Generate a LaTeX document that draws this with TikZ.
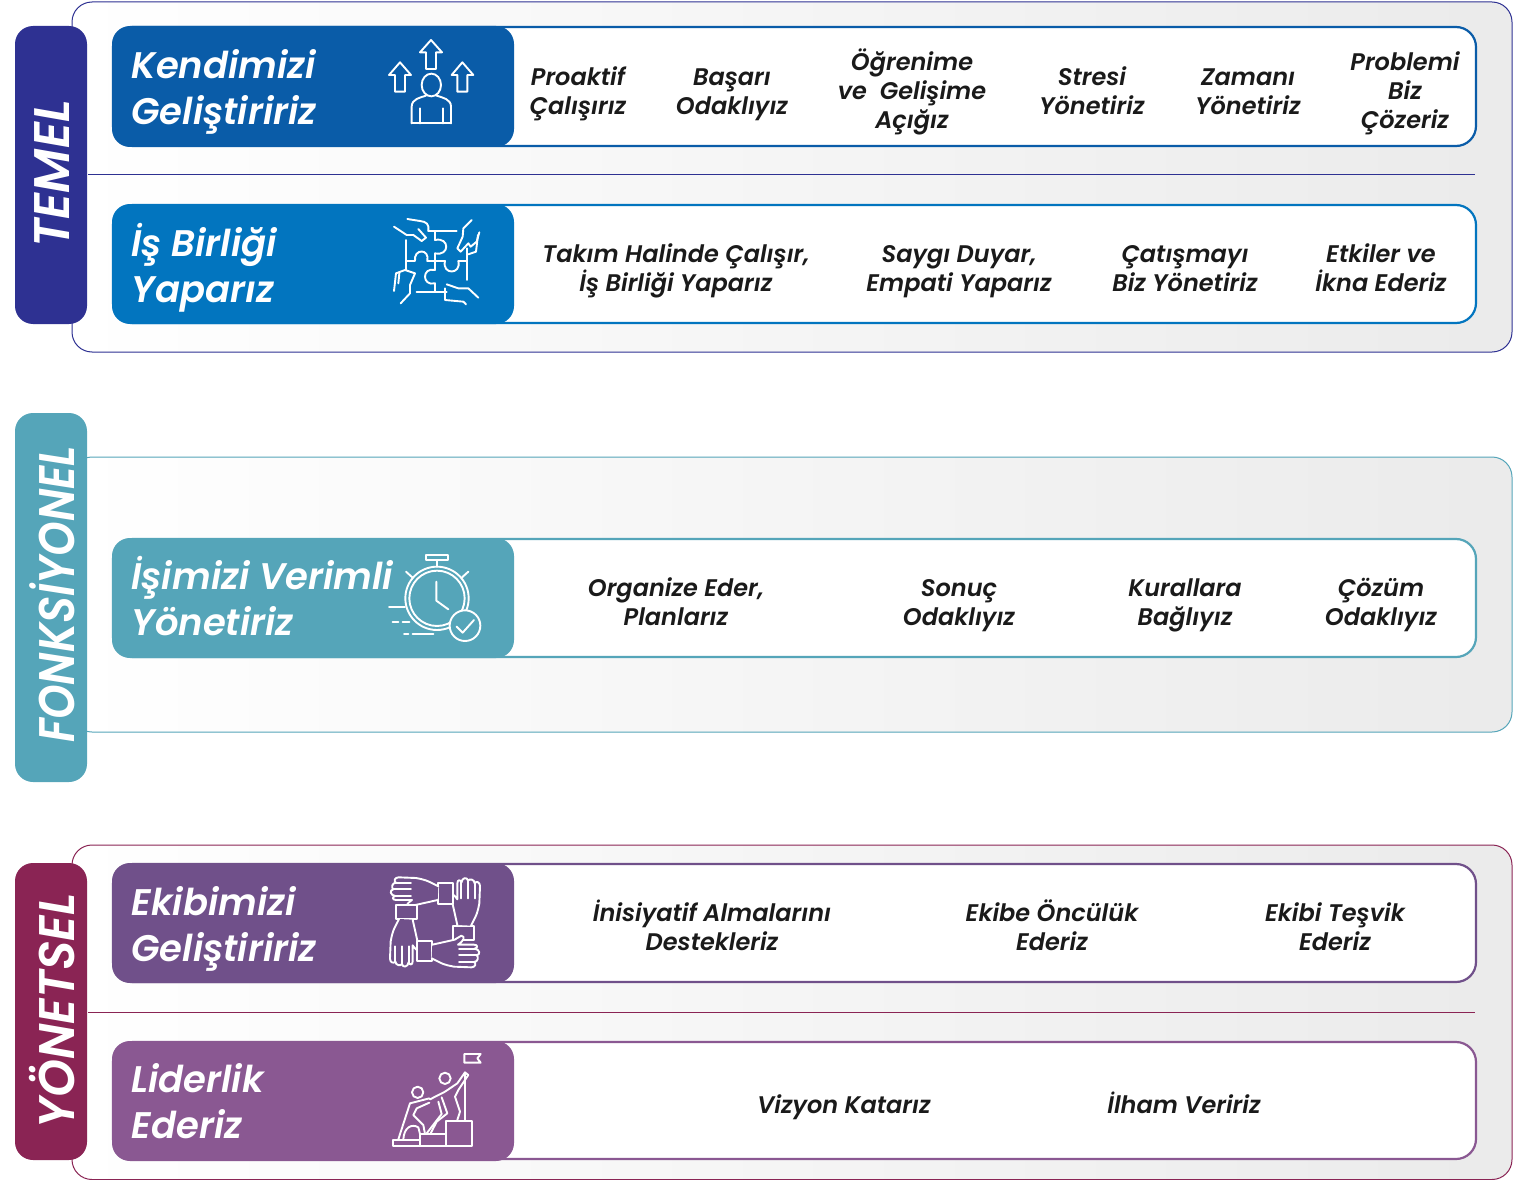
\documentclass[tikz,border=0pt]{standalone}
\usepackage{fontspec}
\newfontfamily\popfont{Poppins SemiBold Italic}
\definecolor{temelc}{HTML}{2E3192}
\definecolor{fonkc}{HTML}{55A5B9}
\definecolor{yonc}{HTML}{8A2454}
\definecolor{kendic}{HTML}{0A5CA8}
\definecolor{isc}{HTML}{0275BF}
\definecolor{ekibc}{HTML}{70508A}
\definecolor{lidc}{HTML}{8A5892}
\definecolor{inkc}{HTML}{1A1A1A}
\tikzset{
  panelbox/.style={line width=1pt,rounded corners=20,left color=white,right color=black!8},
  tabbox/.style={rounded corners=18},
  rowbox/.style={fill=white,line width=2.2pt,rounded corners=20},
  headbox/.style={rounded corners=18},
  grouptext/.style={text=white,rotate=90,font=\popfont\fontsize{50}{50}\selectfont},
  headtext/.style={text=white,anchor=west,align=left,font=\popfont\fontsize{37}{46}\selectfont},
  itemtext/.style={text=inkc,align=center,font=\popfont\fontsize{24}{29}\selectfont},
  icon/.style={draw=white,line width=1.9pt,line join=round,line cap=round},
}
\begin{document}
\begin{tikzpicture}[x=1pt,y=-1pt]
    \useasboundingbox (0,0) rectangle (1513,1180);
    % outer panels
    \draw[panelbox,draw=temelc] (72,2) rectangle (1512,352);
    \draw[panelbox,draw=fonkc] (72,457) rectangle (1512,732);
    \draw[panelbox,draw=yonc] (72,845) rectangle (1512,1179.5);
    \draw[temelc,line width=1pt] (88,175) -- (1475,175);
    \draw[yonc,line width=1pt] (88,1012) -- (1475,1012);
    % side tabs
    \fill[tabbox,temelc] (15,26) rectangle (87,324);
    \fill[tabbox,fonkc] (15,413) rectangle (87,782);
    \fill[tabbox,yonc] (15,863) rectangle (87,1160);
    \node[grouptext,xscale=.985] (temel) at (52,174) {TEMEL};
    \node[grouptext,xscale=.88] (fonksiyonel) at (52,594.5) {FONKSİYONEL};
    \node[grouptext,xscale=.966] (yonetsel) at (52,1011) {YÖNETSEL};
    % rows
    \draw[rowbox,draw=kendic] (113,27) rectangle (1476,146);
    \draw[rowbox,draw=isc] (113,205) rectangle (1476,323);
    \draw[rowbox,draw=fonkc] (113,539) rectangle (1476,657);
    \draw[rowbox,draw=ekibc] (113,864) rectangle (1476,982);
    \draw[rowbox,draw=lidc] (113,1042) rectangle (1476,1159);
    \fill[headbox,kendic] (112,26) rectangle (514,147);
    \fill[headbox,isc] (112,204) rectangle (514,324);
    \fill[headbox,fonkc] (112,538) rectangle (514,658);
    \fill[headbox,ekibc] (112,863) rectangle (514,983);
    \fill[headbox,lidc] (112,1041) rectangle (514,1161);
    \node[headtext] (kendimizi) at (128,92) {Kendimizi\\Geliştiririz};
    \node[headtext] (birligi) at (128,268) {İş Birliği\\Yaparız};
    \node[headtext] (verimli) at (128,596) {İşimizi Verimli\\Yönetiriz};
    \node[headtext] (ekibimizi) at (128,929) {Ekibimizi\\Geliştiririz};
    \node[headtext] (liderlik) at (128,1101) {Liderlik\\Ederiz};
    % items
    \node[itemtext] (proaktif) at (578,94) {Proaktif\\Çalışırız};
    \node[itemtext] (basari) at (732,95) {Başarı\\Odaklıyız};
    \node[itemtext] (ogrenime) at (912,92) {Öğrenime\\ve~~Gelişime\\Açığız};
    \node[itemtext] (stresi) at (1092,91) {Stresi\\Yönetiriz};
    \node[itemtext] (zamani) at (1248,92) {Zamanı\\Yönetiriz};
    \node[itemtext] (problemi) at (1405,93) {Problemi\\Biz\\Çözeriz};
    \node[itemtext] (takim) at (676,271) {Takım Halinde Çalışır,\\İş Birliği Yaparız};
    \node[itemtext] (saygi) at (959,272) {Saygı Duyar,\\Empati Yaparız};
    \node[itemtext] (catisma) at (1185,269) {Çatışmayı\\Biz Yönetiriz};
    \node[itemtext] (etkiler) at (1381,268) {Etkiler ve\\İkna Ederiz};
    \node[itemtext] (organize) at (676,602) {Organize Eder,\\Planlarız};
    \node[itemtext] (sonuc) at (959,605.5) {Sonuç\\Odaklıyız};
    \node[itemtext] (kurallara) at (1185,605) {Kurallara\\Bağlıyız};
    \node[itemtext] (cozum) at (1381,605) {Çözüm\\Odaklıyız};
    \node[itemtext] (inisiyatif) at (712,925.5) {İnisiyatif Almalarını\\Destekleriz};
    \node[itemtext] (oncu) at (1052,925) {Ekibe Öncülük\\Ederiz};
    \node[itemtext] (tesvik) at (1335,926.5) {Ekibi Teşvik\\Ederiz};
    \node[itemtext] (vizyon) at (844,1107) {Vizyon Katarız};
    \node[itemtext] (ilham) at (1184,1103) {İlham Veririz};
    % arrows and person
    \begin{scope}[shift={(370,25)},scale=1/3,icon]
        \draw (183,45) -- (216,82) -- (198,82) -- (198,132) -- (168,132) -- (168,82) -- (150,82) -- cycle;
        \draw (90,112) -- (123,150) -- (105,150) -- (105,200) -- (75,200) -- (75,150) -- (57,150) -- cycle;
        \draw (277,112) -- (310,150) -- (292,150) -- (292,200) -- (262,200) -- (262,150) -- (245,150) -- cycle;
        \draw (184,180) ellipse [x radius=29,y radius=34];
        \draw (125,295) -- (125,245) .. controls (125,222) and (150,218) .. (168,212);
        \draw (243,295) -- (243,245) .. controls (243,222) and (218,218) .. (200,212);
        \draw (125,295) -- (243,295) (150,250) -- (150,295) (218,250) -- (218,295);
    \end{scope}
    % puzzle and hands
    \begin{scope}[shift={(370,205)},scale=1/3,icon]
        \draw (195,78) -- (195,105) .. controls (240,95) and (240,155) .. (195,145) -- (195,195) .. controls (155,185) and (155,245) .. (195,235) -- (195,258);
        \draw (175,78) -- (260,78) (108,105) -- (108,195) (290,130) -- (290,225) (140,260) -- (230,260);
        \draw (108,168) -- (135,168) .. controls (130,130) and (180,130) .. (172,168) -- (225,168) .. controls (215,210) and (275,210) .. (265,168) -- (290,168);
        \draw (112,42) -- (150,48) .. controls (170,50) and (178,58) .. (175,78);
        \draw (72,65) -- (110,90) -- (130,90) -- (155,108) -- (168,98) -- (145,72);
        \draw (305,45) -- (280,70) -- (278,95) -- (262,130) -- (272,140) -- (295,115) -- (302,125) -- (320,110) -- (328,82);
        \draw (295,148) -- (318,140) -- (324,90);
        \draw (230,238) -- (265,250) -- (295,250) -- (325,278);
        \draw (225,250) -- (225,285) -- (280,290) -- (288,298);
        \draw (72,258) -- (78,205) -- (105,195) -- (135,205) -- (120,240) -- (120,265) -- (92,295);
        \draw (88,205) -- (85,235);
    \end{scope}
    % stopwatch
    \begin{scope}[shift={(370,530)},scale=1/3,icon]
        \draw (167,75) rectangle (235,90);
        \draw (201,90) -- (201,110);
        \draw (108,125) -- (128,143) (295,125) -- (275,143);
        \draw (201,205) circle [radius=95];
        \draw (201,205) circle [radius=83];
        \draw (199,155) -- (199,212) -- (235,238);
        \draw (57,230) -- (105,230) (68,277) -- (85,277) (98,277) -- (118,277) (102,311) -- (115,311) (128,311) -- (190,311);
        \draw[fill=fonkc] (285,287) circle [radius=46];
        \draw (260,290) -- (278,308) -- (312,270);
    \end{scope}
    % four hands
    \begin{scope}[shift={(370,860)},scale=1/3,icon]
        \foreach \ang in {0,90,180,270} {
            \begin{scope}[rotate around={\ang:(195,187)}]
                \draw[fill=ekibc] (250,197) rectangle (312,240);
                \draw[fill=ekibc] (262,195) .. controls (252,160) .. (247,128) -- (235,108) .. controls (238,95) and (250,100) .. (262,118) -- (262,70) .. controls (262,58) and (272,58) .. (274,68) .. controls (276,52) and (292,50) .. (294,62) .. controls (298,55) and (314,58) .. (314,70) .. controls (318,62) and (330,66) .. (330,78) -- (328,130) .. controls (322,160) .. (303,197);
                \draw (274,68) -- (274,115) (294,62) -- (294,115) (314,70) -- (314,115);
            \end{scope}
        }
    \end{scope}
    % climbers and flag
    \begin{scope}[shift={(370,1040)},scale=1/3,icon]
        \draw (285,100) -- (285,240);
        \draw (283,68) -- (283,42) -- (332,42) -- (322,55) -- (332,68) -- cycle;
        \draw (225,115) circle [radius=17];
        \draw (143,157) circle [radius=17];
        \draw (228,243) rectangle (305,318);
        \draw (150,282) rectangle (228,318);
        \draw (68,300) rectangle (150,318);
        \draw (180,178) -- (225,155) -- (262,130) -- (285,97) -- (295,105) -- (265,150) -- (255,170) -- (270,215) -- (262,240);
        \draw (215,172) -- (232,220) -- (200,245) -- (182,280);
        \draw (205,185) -- (215,222) -- (170,280);
        \draw (178,175) -- (120,190) -- (85,298);
        \draw (178,188) -- (140,205) -- (130,225) -- (160,255) -- (165,282);
        \draw (100,298) .. controls (102,262) and (125,250) .. (145,262) -- (150,282);
    \end{scope}
\end{tikzpicture}
\end{document}
